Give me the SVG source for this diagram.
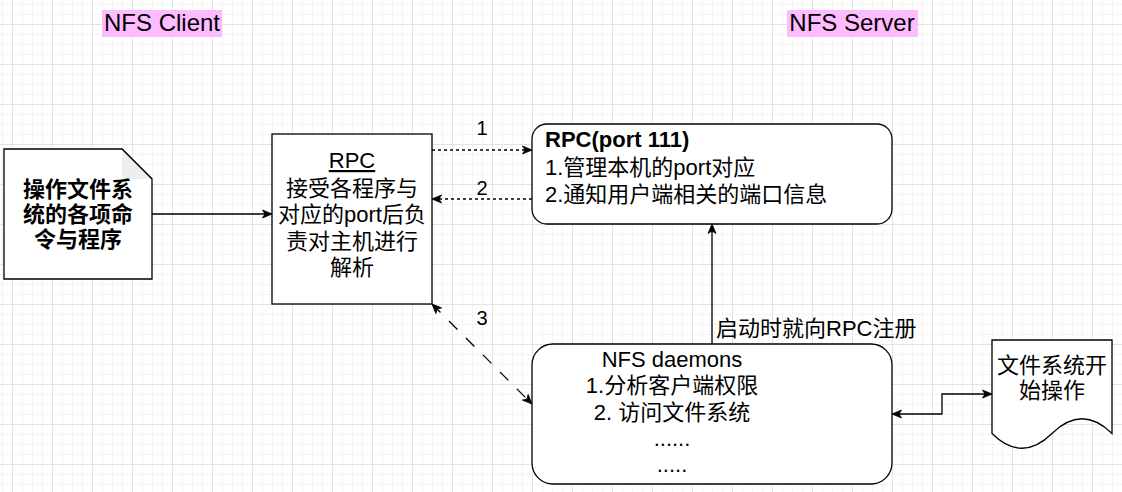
<svg xmlns="http://www.w3.org/2000/svg" width="1122" height="492" viewBox="0 0 1122 492">
<style>
text{font-family:"Liberation Sans","Noto Sans CJK SC",sans-serif;fill:#000}
.t{font-size:22px}
.c{text-anchor:middle}
.b{font-weight:bold}
.lbl{font-size:20px;text-anchor:middle}
.box{fill:#fff;stroke:#000;stroke-width:1.3}
.edge{fill:none;stroke:#000;stroke-width:1.3}
.d1{stroke-dasharray:3 3}
.d2{stroke-dasharray:12 12}
</style>
<defs>
<pattern id="grid" x="12" y="24" width="40" height="40" patternUnits="userSpaceOnUse">
<rect x="10" y="0" width="1" height="40" fill="#f4f4f4"/>
<rect x="20" y="0" width="1" height="40" fill="#f4f4f4"/>
<rect x="30" y="0" width="1" height="40" fill="#f4f4f4"/>
<rect x="0" y="10" width="40" height="1" fill="#f4f4f4"/>
<rect x="0" y="20" width="40" height="1" fill="#f4f4f4"/>
<rect x="0" y="30" width="40" height="1" fill="#f4f4f4"/>
<rect x="0" y="0" width="1" height="40" fill="#e3e3e3"/>
<rect x="0" y="0" width="40" height="1" fill="#e3e3e3"/>
</pattern>
<marker id="arr" viewBox="-10 -5 11 10" refX="0" refY="0" markerWidth="11" markerHeight="10" markerUnits="userSpaceOnUse" orient="auto-start-reverse">
<path d="M-9.5,-4 L0,0 L-9.5,4 L-7,0 Z" fill="#000" stroke="#000" stroke-width="0.8" stroke-linejoin="miter"/>
</marker>
</defs>
<rect width="1122" height="492" fill="#fff"/>
<rect width="1122" height="492" fill="url(#grid)"/>

<g id="title-client">
<rect x="102" y="10" width="120" height="27" fill="#ffbbff"/>
<text x="162" y="31" font-size="24" text-anchor="middle">NFS Client</text>
</g>
<g id="title-server">
<rect x="787" y="10" width="131" height="27" fill="#ffbbff"/>
<text x="852" y="31" font-size="24" text-anchor="middle">NFS Server</text>
</g>

<g id="connectors">
<path class="edge" d="M152,214 H272" marker-end="url(#arr)"/>
<path class="edge d1" d="M432,150 H532" marker-end="url(#arr)"/>
<path class="edge d1" d="M532,199 H432" marker-end="url(#arr)"/>
<path class="edge d2" d="M432,304 L532,404" marker-start="url(#arr)" marker-end="url(#arr)"/>
<path class="edge" d="M712,344 V224" marker-end="url(#arr)"/>
<path class="edge" d="M892,414 H942 V394 H992" marker-start="url(#arr)" marker-end="url(#arr)"/>
<text class="lbl" x="482" y="135">1</text>
<text class="lbl" x="482" y="195">2</text>
<text class="lbl" x="482" y="325">3</text>
<text class="t" x="716" y="336">启动时就向RPC注册</text>
</g>

<g id="note">
<path class="box" d="M4,149 H122 L152,179 V279 H4 Z"/>
<path d="M122,149 V179 H152 Z" fill="#eeeeee"/>
<path d="M122,149 L152,179" fill="none" stroke="#000" stroke-width="1.3"/>
<text class="t c b" x="78" y="197">操作文件系</text>
<text class="t c b" x="78" y="222">统的各项命</text>
<text class="t c b" x="78" y="247">令与程序</text>
</g>

<g id="rpc-client">
<rect class="box" x="272" y="134" width="160" height="170"/>
<text class="t c" x="352" y="168" text-decoration="underline">RPC</text>
<text class="t c" x="352" y="196">接受各程序与</text>
<text class="t c" x="352" y="222">对应的port后负</text>
<text class="t c" x="352" y="249">责对主机进行</text>
<text class="t c" x="352" y="275">解析</text>
</g>

<g id="rpc-server">
<rect class="box" x="532" y="124" width="360" height="100" rx="15" ry="15"/>
<text class="t b" x="545" y="147">RPC(port 111)</text>
<text class="t" x="545" y="175">1.管理本机的port对应</text>
<text class="t" x="545" y="202">2.通知用户端相关的端口信息</text>
</g>

<g id="nfs-daemons">
<rect class="box" x="532" y="344" width="360" height="140" rx="21" ry="21"/>
<text class="t c" x="672" y="367">NFS daemons</text>
<text class="t c" x="672" y="393">1.分析客户端权限</text>
<text class="t c" x="672" y="420">2. 访问文件系统</text>
<text class="t c" x="672" y="446">......</text>
<text class="t c" x="672" y="472">.....</text>
</g>

<g id="fs-doc">
<path class="box" d="M992,340 H1112 V433.5 Q1082,404 1052,433.5 Q1022,463 992,433.5 Z"/>
<text class="t c" x="1052" y="373">文件系统开</text>
<text class="t c" x="1052" y="398">始操作</text>
</g>
</svg>
